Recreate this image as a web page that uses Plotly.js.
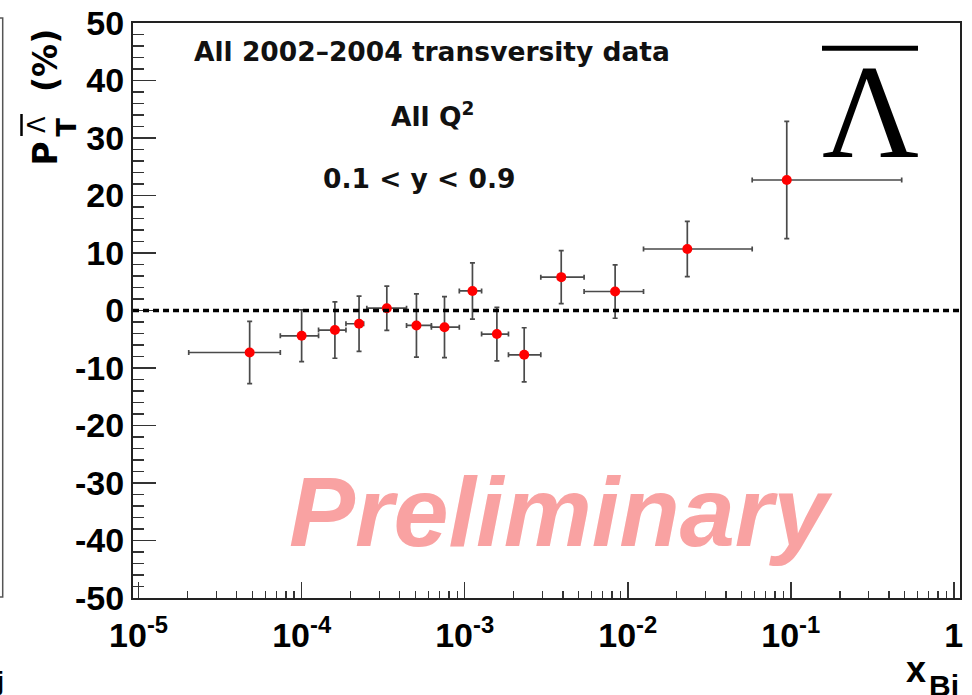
<!DOCTYPE html>
<html>
<head>
<meta charset="utf-8">
<script src="https://cdn.plot.ly/plotly-3.0.1.min.js"></script>
<style>html,body{margin:0;padding:0;background:#fff;}#plot{width:972px;height:695px;}</style>
</head>
<body>
<div id="plot"></div>
<script>
// x_Bj bin centres and bin edges
const xVal  = [4.80e-5, 1.00e-4, 1.60e-4, 2.25e-4, 3.33e-4, 5.06e-4, 7.52e-4, 1.116e-3, 1.576e-3, 2.317e-3, 3.91e-3, 8.37e-3, 2.32e-2, 9.45e-2];
const xLow  = [2.03e-5, 7.40e-5, 1.27e-4, 1.87e-4, 2.51e-4, 4.40e-4, 6.25e-4, 9.27e-4, 1.27e-3, 1.856e-3, 2.93e-3, 5.40e-3, 1.25e-2, 5.80e-2];
const xHigh = [7.40e-5, 1.27e-4, 1.87e-4, 2.40e-4, 4.40e-4, 6.25e-4, 9.27e-4, 1.27e-3, 1.856e-3, 2.93e-3, 5.40e-3, 1.25e-2, 5.80e-2, 0.479];
// polarisation (%) and statistical errors
const yVal  = [-7.3, -4.4, -3.4, -2.3, 0.4, -2.6, -2.9, 3.4, -4.1, -7.7, 5.8, 3.3, 10.7, 22.7];
const yErr  = [5.4, 4.5, 4.9, 4.8, 3.85, 5.5, 5.3, 4.9, 4.65, 4.7, 4.6, 4.65, 4.8, 10.2];
// axis ticks
const xTickVals = [1e-5, 1e-4, 1e-3, 1e-2, 1e-1, 1];
const xTickText = ['10<sup>-5</sup>', '10<sup>-4</sup>', '10<sup>-3</sup>', '10<sup>-2</sup>', '10<sup>-1</sup>', '1'];
const yTickVals = [-50, -40, -30, -20, -10, 0, 10, 20, 30, 40, 50];
const yTickText = ['-50', '-40', '-30', '-20', '-10', '0', '10', '20', '30', '40', '50'];

const errPlus = xVal.map((v, i) => xHigh[i] - v);
const errMinus = xVal.map((v, i) => v - xLow[i]);

// pixel -> paper helpers (plot area 133..960 x 23..598)
const L = 133, R = 960, T = 23, B = 598;
const px = p => (p - L) / (R - L);
const py = p => (B - p) / (B - T);

const trace = {
  type: 'scatter', mode: 'markers',
  x: xVal, y: yVal,
  marker: {color: '#ff0000', size: 10, line: {width: 0}},
  error_x: {type: 'data', symmetric: false, array: errPlus, arrayminus: errMinus, color: '#4a4a4a', thickness: 1.7, width: 2.5},
  error_y: {type: 'data', array: yErr, color: '#4a4a4a', thickness: 1.7, width: 2.5},
  hoverinfo: 'skip', showlegend: false, cliponaxis: false
};

const tickFont = {family: 'Liberation Sans, Arial, sans-serif', size: 34, color: '#000', weight: 700};
const txtFont = {family: 'DejaVu Sans, sans-serif', size: 26.5, color: '#111', weight: 700};
const ttlFont = {family: 'DejaVu Sans, sans-serif', size: 33, color: '#000', weight: 700};

const layout = {
  width: 972, height: 695,
  margin: {l: L, r: 972 - R, t: T, b: 695 - B, pad: 0},
  paper_bgcolor: '#ffffff', plot_bgcolor: '#ffffff',
  showlegend: false,
  xaxis: {
    type: 'log', range: [-5.0343, 0.038],
    tickmode: 'array', tickvals: xTickVals, ticktext: xTickText,
    ticks: 'inside', ticklen: 16, tickwidth: 1.6, tickcolor: '#333',
    minor: {dtick: 'D1', ticks: 'inside', ticklen: 7, tickwidth: 1.4, tickcolor: '#333', showgrid: false},
    showline: true, linecolor: '#222', linewidth: 2, mirror: true,
    showgrid: false, zeroline: false,
    tickfont: tickFont, ticklabelstandoff: 6
  },
  yaxis: {
    range: [-50, 50],
    tickmode: 'array', tickvals: yTickVals, ticktext: yTickText,
    ticks: 'inside', ticklen: 23, tickwidth: 1.6, tickcolor: '#333',
    minor: {dtick: 2, ticks: 'inside', ticklen: 11, tickwidth: 1.4, tickcolor: '#333', showgrid: false},
    showline: true, linecolor: '#222', linewidth: 2, mirror: true,
    showgrid: false, zeroline: false,
    tickfont: tickFont, ticklabelstandoff: 0
  },
  shapes: [
    {type: 'line', xref: 'paper', yref: 'y', x0: 0, x1: 1, y0: 0, y1: 0,
     line: {color: '#000', width: 3.5, dash: '6px,4px'}},
    {type: 'line', xref: 'paper', yref: 'paper', x0: px(822), x1: px(918), y0: py(48.3), y1: py(48.3),
     line: {color: '#000', width: 5}},
    {type: 'line', xref: 'paper', yref: 'paper', x0: px(21.5), x1: px(21.5), y0: py(114), y1: py(136),
     line: {color: '#000', width: 2.5}},
    {type: 'path', xref: 'paper', yref: 'paper',
     path: 'M ' + px(-2) + ' ' + py(18) + ' L ' + px(2.7) + ' ' + py(18) + ' L ' + px(2.7) + ' ' + py(597) + ' L ' + px(-2) + ' ' + py(597),
     line: {color: '#555', width: 1.5}}
  ],
  annotations: [
    {text: 'All 2002\u20132004 transversity data', xref: 'paper', yref: 'paper', x: px(431.7), y: py(69.4),
     xanchor: 'center', yanchor: 'bottom', showarrow: false, font: txtFont},
    {text: 'All Q<sup>2</sup>', xref: 'paper', yref: 'paper', x: px(432), y: py(134.4),
     xanchor: 'center', yanchor: 'bottom', showarrow: false, font: txtFont},
    {text: '0.1 &lt; y &lt; 0.9', xref: 'paper', yref: 'paper', x: px(419), y: py(196.1),
     xanchor: 'center', yanchor: 'bottom', showarrow: false, font: txtFont},
    {text: 'Preliminary', xref: 'paper', yref: 'paper', x: px(560.5), y: py(568.9),
     xanchor: 'center', yanchor: 'bottom', showarrow: false,
     font: {family: 'Liberation Sans, Arial, sans-serif', size: 99, color: '#f9a2a2', weight: 700, style: 'italic'}},
    {text: '\u039B', xref: 'paper', yref: 'paper', x: px(870), y: py(188.3),
     xanchor: 'center', yanchor: 'bottom', showarrow: false,
     font: {family: 'Liberation Serif, Times New Roman, serif', size: 134, color: '#000'}},
    {text: 'P', xref: 'paper', yref: 'paper', x: px(45), y: py(153.5),
     xanchor: 'center', yanchor: 'middle', textangle: -90, showarrow: false, font: ttlFont},
    {text: '(%)', xref: 'paper', yref: 'paper', x: px(45), y: py(61),
     xanchor: 'center', yanchor: 'middle', textangle: -90, showarrow: false, font: ttlFont},
    {text: 'T', xref: 'paper', yref: 'paper', x: px(66.5), y: py(127),
     xanchor: 'center', yanchor: 'middle', textangle: -90, showarrow: false,
     font: {family: 'DejaVu Sans, sans-serif', size: 27, color: '#000', weight: 700}},
    {text: '\u039B', xref: 'paper', yref: 'paper', x: px(37), y: py(125),
     xanchor: 'center', yanchor: 'middle', textangle: -90, showarrow: false,
     font: {family: 'DejaVu Sans, sans-serif', size: 24, color: '#000', weight: 400}},
    {text: 'x', xref: 'paper', yref: 'paper', x: px(915.5), y: py(669.2),
     xanchor: 'center', yanchor: 'middle', showarrow: false,
     font: {family: 'Liberation Sans, Arial, sans-serif', size: 36, color: '#000', weight: 700}},
    {text: 'Bj', xref: 'paper', yref: 'paper', x: px(944), y: py(685),
     xanchor: 'center', yanchor: 'middle', showarrow: false,
     font: {family: 'Liberation Sans, Arial, sans-serif', size: 30, color: '#000', weight: 700}},
    {text: 'j', xref: 'paper', yref: 'paper', x: px(6), y: py(697),
     xanchor: 'right', yanchor: 'bottom', showarrow: false,
     font: {family: 'Liberation Sans, Arial, sans-serif', size: 25, color: '#000', weight: 700}}
  ]
};

Plotly.newPlot('plot', [trace], layout, {displayModeBar: false, staticPlot: true});
</script>
</body>
</html>
